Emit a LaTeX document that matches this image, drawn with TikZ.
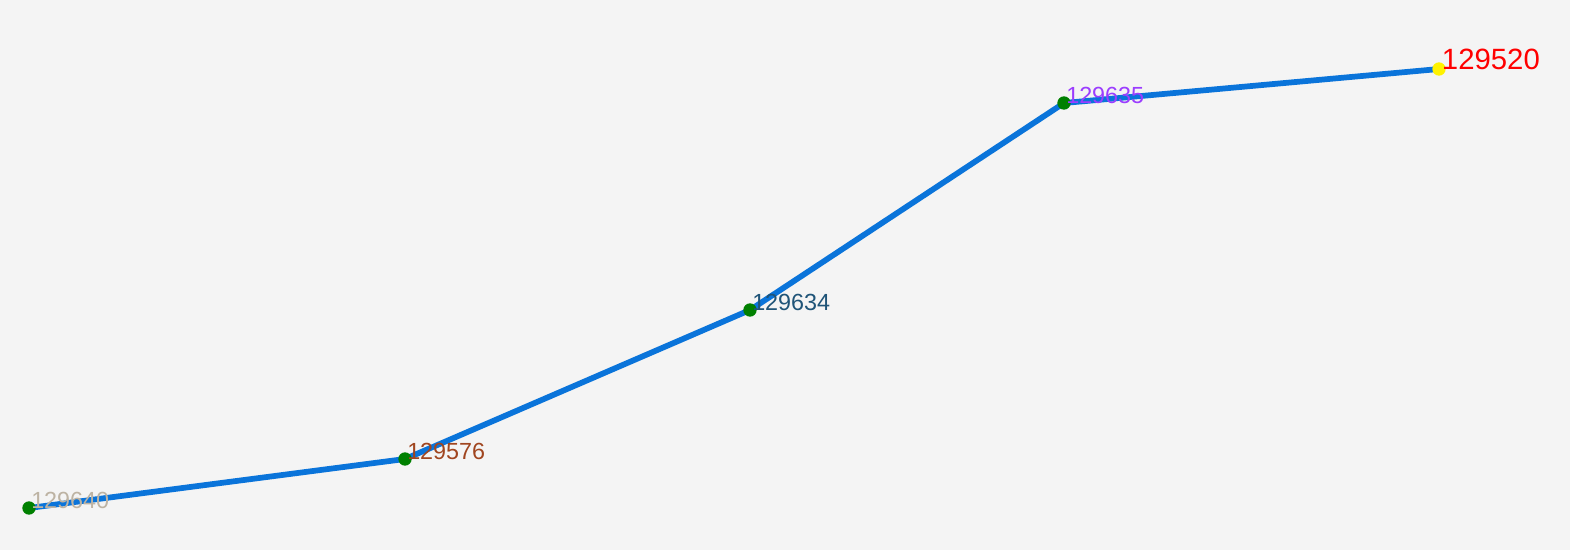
\documentclass[tikz,border=0pt]{standalone}
\usepackage{fontspec}
\setmainfont{Liberation Sans}
\definecolor{bg}{HTML}{F4F4F4}
\definecolor{linec}{HTML}{0A74DA}
\definecolor{dotg}{HTML}{008000}
\definecolor{labA}{HTML}{BDB3A3}
\definecolor{labB}{HTML}{A0451F}
\definecolor{labC}{HTML}{1F5478}
\definecolor{labD}{HTML}{9B3DFF}
\definecolor{labE}{HTML}{FF0000}
\begin{document}
\begin{tikzpicture}[x=0.75pt,y=-0.75pt,
  pt/.style={circle,fill=dotg,inner sep=0pt,minimum size=10pt},
  ptend/.style={circle,fill=yellow,inner sep=0pt,minimum size=10pt},
  lab/.style={anchor=base west,inner sep=0pt,font=\fontsize{17.5}{17.5}\selectfont},
  labbig/.style={anchor=base west,inner sep=0pt,font=\fontsize{22}{22}\selectfont},
  seg/.style={draw=linec,line width=4.3pt}]
\fill[bg] (0,0) rectangle (1570,550);
\useasboundingbox (0,0) rectangle (1570,550);
\coordinate (A) at (29,508);
\coordinate (B) at (405,459);
\coordinate (C) at (750,310);
\coordinate (D) at (1064,103);
\coordinate (E) at (1439,69);
\draw[seg] (A) -- (B) -- (C) -- (D) -- (E);
\node[pt] (nA) at (A) {};
\node[pt] (nB) at (B) {};
\node[pt] (nC) at (C) {};
\node[pt] (nD) at (D) {};
\node[ptend] (nE) at (E) {};
\node[lab,text=labA] (tA) at ([xshift=1.5pt,yshift=-0.5pt]A) {129640};
\node[lab,text=labB] (tB) at ([xshift=1.5pt,yshift=-0.5pt]B) {129576};
\node[lab,text=labC] (tC) at ([xshift=1.5pt,yshift=-0.5pt]C) {129634};
\node[lab,text=labD] (tD) at ([xshift=1.5pt,yshift=-0.5pt]D) {129635};
\node[labbig,text=labE] (tE) at ([xshift=2pt,yshift=0pt]E) {129520};
\end{tikzpicture}
\end{document}
